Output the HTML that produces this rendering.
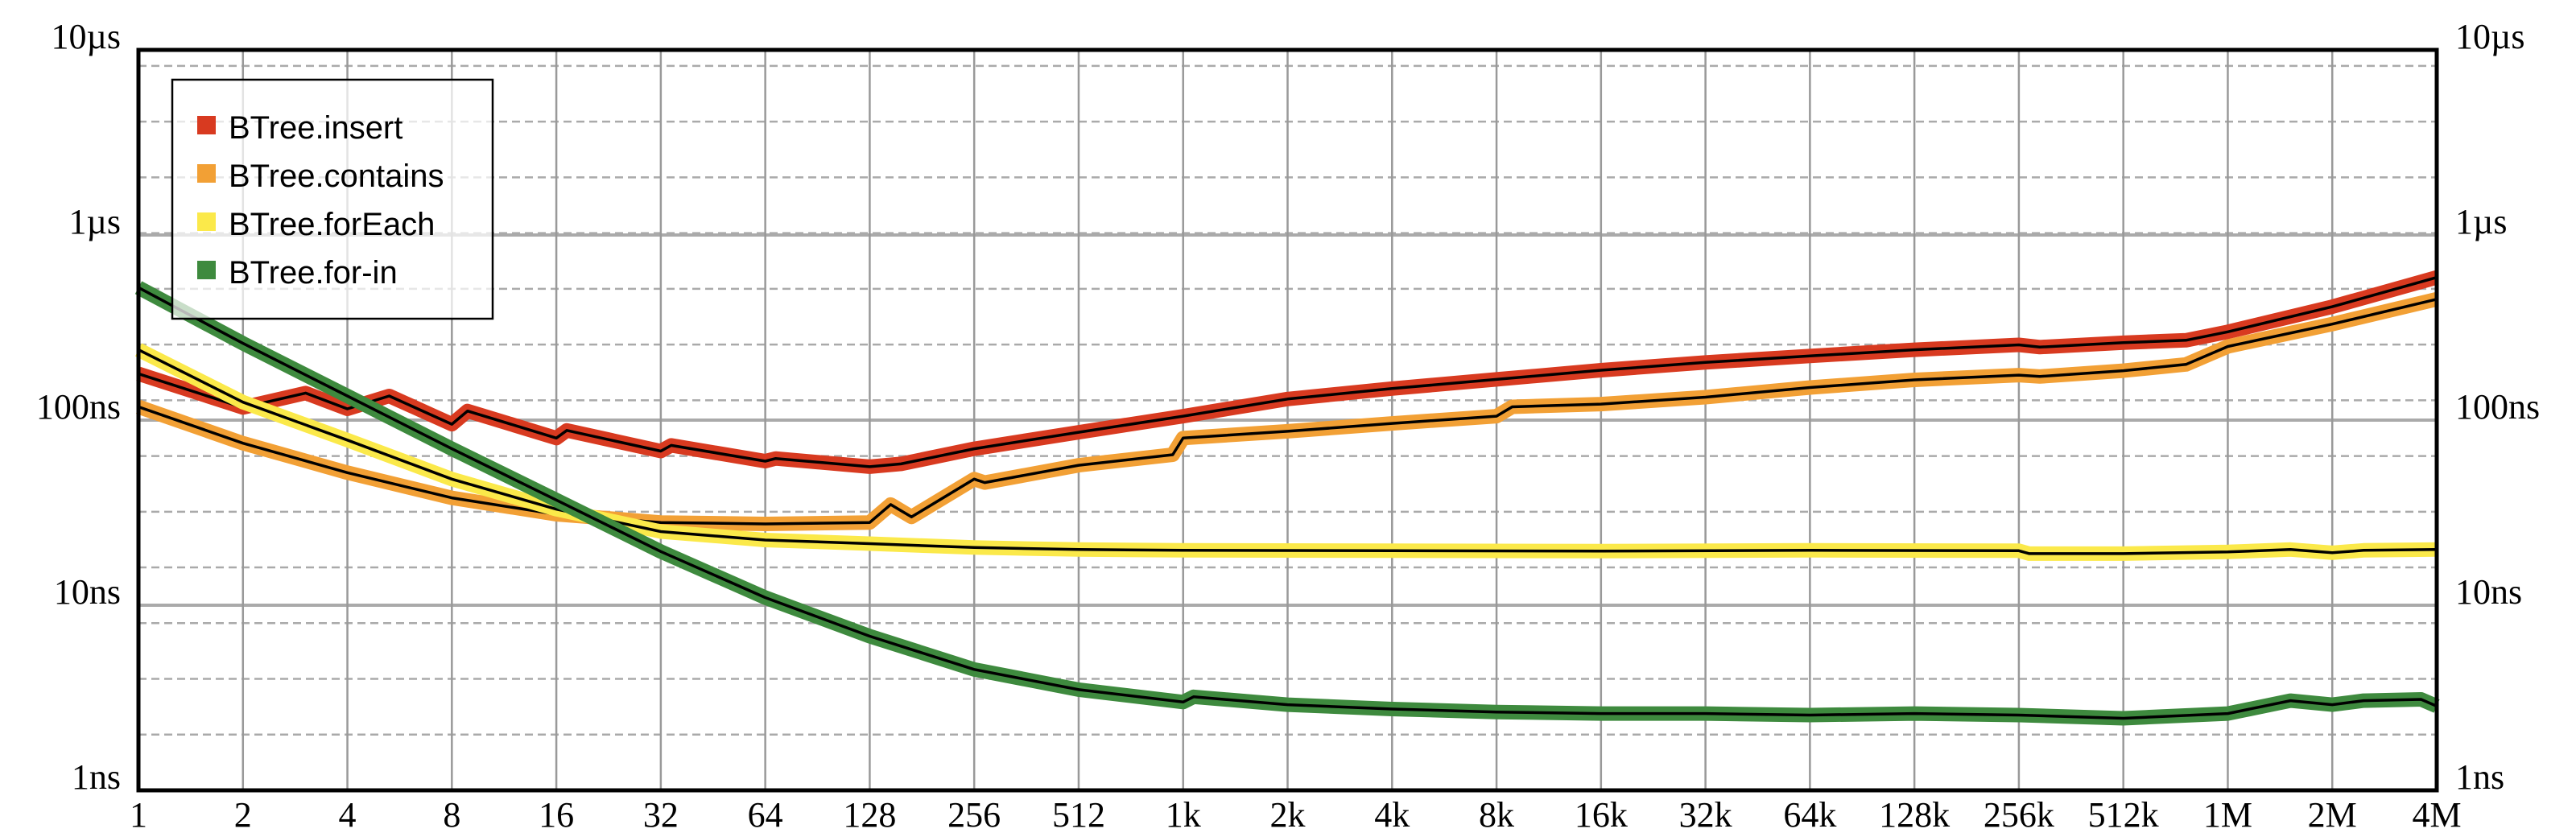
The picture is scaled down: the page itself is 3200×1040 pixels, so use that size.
<!DOCTYPE html>
<html><head><meta charset="utf-8"><style>
html,body{margin:0;padding:0;background:#fff;}
svg{display:block;}
</style></head><body>
<svg id="chart" width="3200" height="1040" xmlns="http://www.w3.org/2000/svg">
<g id="grid"></g>
<g id="series"></g>
<g id="axes"></g>
<g id="legend">
  <rect x="214" y="99" width="398" height="297" fill="#fff" fill-opacity="0.72" stroke="#000" stroke-width="2.5"/>
  <g><rect x="245" y="144" width="23" height="23" fill="#d83a20"/><text x="284" y="172" font-family="Liberation Sans, sans-serif" font-size="40">BTree.insert</text></g>
  <g><rect x="245" y="204" width="23" height="23" fill="#f2a035"/><text x="284" y="232" font-family="Liberation Sans, sans-serif" font-size="40">BTree.contains</text></g>
  <g><rect x="245" y="264" width="23" height="23" fill="#fbe94a"/><text x="284" y="292" font-family="Liberation Sans, sans-serif" font-size="40">BTree.forEach</text></g>
  <g><rect x="245" y="324" width="23" height="23" fill="#3e8a3e"/><text x="284" y="352" font-family="Liberation Sans, sans-serif" font-size="40">BTree.for-in</text></g>
</g>
</svg>
<script>
// x values are log2(n)
const xTickLabels = ["1","2","4","8","16","32","64","128","256","512","1k","2k","4k","8k","16k","32k","64k","128k","256k","512k","1M","2M","4M"];
const yTickLabels = ["1ns","10ns","100ns","1µs","10µs"];
const insertX = [0,1,1.6,2,2.4,3,3.15,4,4.1,5,5.1,6,6.1,7,7.3,8,9,10,11,12,13,14,15,16,17,18,18.2,19,19.6,20,21,22];
const insertY = [178,117,140,115,135,95,112,80,88,68,73,60,62,56,58,70,86,105,130,148,166,186,205,222,240,255,248,262,270,300,410,590];
const containsX = [0,1,2,3,4,5,6,7,7.2,7.4,8,8.1,9,9.9,10,11,12,13,13.15,14,15,16,17,18,18.2,19,19.6,20,21,22];
const containsY = [118,75,52,38,31,28,27.5,28,35,30,48,46,57,65,80,87,96,105,118,122,133,150,165,175,172,185,200,250,330,450];
const forEachX = [0,1,2,3,4,5,6,7,8,9,10,12,14,16,18,18.1,19,20,20.6,21,21.3,22];
const forEachY = [240,125,78,48,33,25,22.5,21.5,20.5,20,19.8,19.7,19.6,19.8,19.7,19,19,19.4,20,19.2,19.8,20];
const forInX = [0,1,2,3,4,5,6,7,8,9,10,10.1,11,12,13,14,15,16,17,18,19,20,20.6,21,21.3,21.85,22];
const forInY = [520,260,135,70,37,19.5,11,6.8,4.5,3.5,3.0,3.2,2.9,2.75,2.65,2.6,2.6,2.55,2.6,2.55,2.45,2.6,3.05,2.9,3.05,3.1,2.85];

const L=172,R=3027,B=982,DEC=230;
const NS='http://www.w3.org/2000/svg';
const xs=v=>L+(R-L)*v/22;
const ys=v=>B-DEC*Math.log10(v);
function mk(tag,attrs,parent){const e=document.createElementNS(NS,tag);for(const k in attrs)e.setAttribute(k,attrs[k]);parent.appendChild(e);return e;}
const grid=document.getElementById('grid'),axes=document.getElementById('axes'),ser=document.getElementById('series');
for(let k=1;k<=13;k++){const v=Math.pow(2,k);if(v>=10000)break;
  const l=mk('line',{x1:L,x2:R,y1:ys(v),y2:ys(v),stroke:'#aaa','stroke-width':2.5,'stroke-dasharray':'10 6'},grid);
  
  }
for(let d=1;d<4;d++){const l=mk('line',{x1:L,x2:R,y1:ys(Math.pow(10,d)),y2:ys(Math.pow(10,d)),stroke:'#aaa','stroke-width':4},grid);
  
  }
for(let i=1;i<22;i++){const l=mk('line',{x1:xs(i),x2:xs(i),y1:ys(10000),y2:B,stroke:'#999','stroke-width':2.5},grid);
  
  }
function series(xa,ya,color,name){
  const pts=xa.map((x,i)=>xs(x).toFixed(1)+','+ys(ya[i]).toFixed(1)).join(' ');
  const g=mk('g',{},ser);
  
  
  mk('polyline',{points:pts,fill:'none',stroke:color,'stroke-width':18,'stroke-linejoin':'round'},g);
  mk('polyline',{points:pts,fill:'none',stroke:'#000','stroke-width':3.5,'stroke-linejoin':'round'},g);
}
series(insertX,insertY,'#d83a20','insert');
series(containsX,containsY,'#f2a035','contains');
series(forEachX,forEachY,'#fbe94a','foreach');
series(forInX,forInY,'#3e8a3e','for-in');
const fr=mk('rect',{x:L,y:ys(10000),width:R-L,height:B-ys(10000),fill:'none',stroke:'#000','stroke-width':5},axes);


xTickLabels.forEach((t,i)=>{const e=mk('text',{x:xs(i),y:1027,'text-anchor':'middle','font-family':'Liberation Serif, serif','font-size':44},axes);e.textContent=t;
  
  });
yTickLabels.forEach((t,i)=>{const y=ys(Math.pow(10,i))-2;
  const e=mk('text',{x:150,y:y,'text-anchor':'end','font-family':'Liberation Serif, serif','font-size':44},axes);e.textContent=t;
  
  
  const r=mk('text',{x:3050,y:y,'text-anchor':'start','font-family':'Liberation Serif, serif','font-size':44},axes);r.textContent=t;
  
  });
</script>
</body></html>
